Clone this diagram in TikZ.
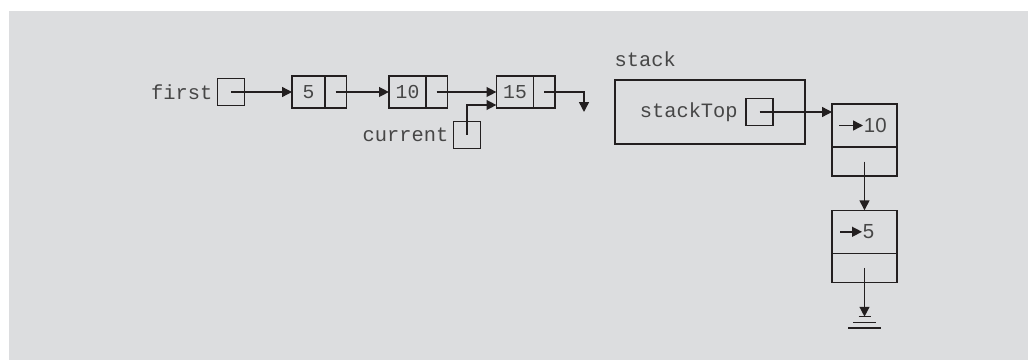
\documentclass[tikz,border=0pt]{standalone}
\usepackage{fontspec}
\setmonofont{Liberation Mono}
\setsansfont{Liberation Sans}
\usetikzlibrary{arrows.meta, positioning, calc}
\definecolor{panelgray}{RGB}{220,221,223}
\definecolor{inkgray}{RGB}{35,31,32}
\definecolor{txtgray}{RGB}{70,70,70}

\begin{document}
\begin{tikzpicture}[
  x=0.025cm, y=-0.025cm,
  cell/.style={rectangle, draw=inkgray, line width=1pt, inner sep=0pt,
               outer sep=0pt, minimum height=0.8cm},
  datacell/.style={cell, minimum width=0.93cm,
               font=\ttfamily\fontsize{14}{16}\selectfont, text=txtgray},
  linkcell/.style={cell, minimum width=0.53cm},
  ptrbox/.style={cell, minimum width=0.675cm, minimum height=0.675cm},
  stkcell/.style={cell, minimum width=1.625cm, minimum height=1.075cm},
  stklink/.style={cell, minimum width=1.625cm, minimum height=0.725cm},
  lbl/.style={font=\ttfamily\fontsize{14.5}{17}\selectfont, text=txtgray, inner sep=1pt},
  numtxt/.style={font=\sffamily\fontsize{14.5}{16}\selectfont, text=txtgray, inner sep=0.5pt},
  arr/.style={-{Triangle[length=7pt, width=7pt]}, line width=1pt, draw=inkgray},
  line/.style={line width=1pt, draw=inkgray}
]
  \useasboundingbox (0,0) rectangle (1028,360);
  \fill[panelgray] (9,11) rectangle (1028,360);

  % linked list
  \node[ptrbox] (firstp) at (231,92) {};
  \node[lbl, left=2.5pt of firstp] (firstlbl) {first};
  \node[datacell, minimum width=0.825cm] (n5) at (308.5,92) {5};
  \node[linkcell, right=0pt of n5] (n5l) {};
  \node[datacell] (n10) at (407.5,92) {10};
  \node[linkcell, right=0pt of n10] (n10l) {};
  \node[datacell] (n15) at (515,92) {15};
  \node[linkcell, right=0pt of n15] (n15l) {};
  \coordinate (nil15) at (584,112);

  \node[ptrbox] (curp) at (467,135) {};
  \node[lbl, left=2.5pt of curp] (curlbl) {current};

  \foreach \a/\b in {firstp/n5,n5l/n10,n10l/n15}
    \draw[arr] (\a.center) -- (\b.west);
  \draw[arr] (n15l.center) -| (nil15);
  \draw[arr] (curp.center) |- ([yshift=-0.325cm]n15.west);

  % stack
  \node[cell, minimum width=4.75cm, minimum height=1.6cm] (stackbox) at (710,112) {};
  \node[lbl, anchor=south west] (stacklbl) at ([xshift=-0.05cm, yshift=0.3cm]stackbox.north west) {stack};
  \node[ptrbox] (stptr) at (759.5,112) {};
  \node[lbl, left=4.7pt of stptr] (stlbl) {stackTop};

  \node[stkcell] (sn1) at (864.5,125.5) {};
  \node[stklink, below=0pt of sn1] (sn1b) {};
  \node[stkcell] (sn2) at (864.5,231.8) {};
  \node[stklink, below=0pt of sn2] (sn2b) {};

  \coordinate (a10) at ([xshift=0.175cm]sn1.west);
  \node[numtxt, right=0.6cm of a10] (v10) {10};
  \coordinate (a5) at ([xshift=0.2cm]sn2.west);
  \node[numtxt, right=0.55cm of a5] (v5) {5};
  \draw[arr] (a10) -- (v10.west);
  \draw[arr] (a5) -- (v5.west);

  \draw[arr] (stptr.center) -- (stptr.center -| sn1.west);
  \draw[arr] (sn1b.center) -- (sn2.north);

  % bottom of stack
  \coordinate (gnd) at (864.5,316.7);
  \draw[arr] (sn2b.center) -- (gnd);
  \draw[line] ([shift={(-6,0)}]gnd) -- ([shift={(6,0)}]gnd);
  \draw[line] ([shift={(-11.3,6)}]gnd) -- ([shift={(11.3,6)}]gnd);
  \draw[line] ([shift={(-16.3,11.3)}]gnd) -- ([shift={(16.3,11.3)}]gnd);
\end{tikzpicture}
\end{document}
